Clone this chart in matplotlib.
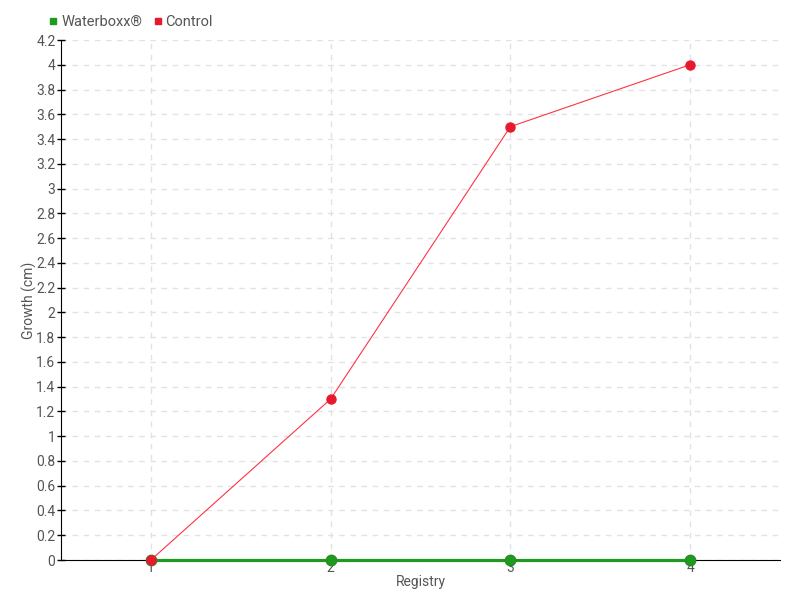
import numpy as np
import matplotlib
matplotlib.use('Agg')
import matplotlib.pyplot as plt

### Data
registry = [1, 2, 3, 4]
waterboxx = [0, 0, 0, 0]
control = [0, 1.3, 3.5, 4.0]
yticks = np.round(np.arange(0, 4.21, 0.2), 1)

plt.rcParams['font.family'] = ['Roboto', 'DejaVu Sans']
txtcol = '#555555'

fig = plt.figure(figsize=(8, 6), dpi=100)
ax = fig.add_axes([61/800, 40/600, 719/800, 520/600])

ax.plot(registry, waterboxx, color='#1e9a1e', linewidth=2.3, marker='o',
        markersize=7.5, markerfacecolor='#1e9a1e', markeredgecolor='#2a8a2a',
        label='Waterboxx®', zorder=3, clip_on=False)
ax.plot(registry, control, color='#ff3345', linewidth=0.8, marker='o',
        markersize=6.5, markerfacecolor='#e8192c', markeredgecolor='#e8192c',
        label='Control', zorder=4, clip_on=False)

ax.set_xlim(0.5, 4.5)
ax.set_ylim(0, 4.2)
ax.set_xticks(registry)
ax.set_xticklabels([str(r) for r in registry])
ax.set_yticks(yticks)
ax.set_yticklabels(['%g' % v for v in yticks])

ax.grid(True, color='#e2e2e2', linestyle=(0, (4, 4)), linewidth=1)
ax.set_axisbelow(True)
for s in ['top', 'right']:
    ax.spines[s].set_visible(False)
ax.spines['left'].set_color('black')
ax.spines['bottom'].set_color('black')
ax.tick_params(axis='y', direction='inout', length=6, width=1,
               colors='black', labelcolor=txtcol, labelsize=10, pad=1)
ax.tick_params(axis='x', length=0, labelcolor=txtcol, labelsize=10, pad=1)

ax.set_xlabel('Registry', color=txtcol, fontsize=10, labelpad=0)
ax.set_ylabel('Growth (cm)', color=txtcol, fontsize=10)
ax.yaxis.set_label_coords(-0.033, 0.5)

h1 = plt.Line2D([], [], color='#1e9a1e', marker='s', linestyle='none', markersize=4.5)
h2 = plt.Line2D([], [], color='#e8192c', marker='s', linestyle='none', markersize=4.5)
leg = ax.legend([h1, h2], ['Waterboxx®', 'Control'], loc='lower left',
                bbox_to_anchor=(-0.028, 1.005), ncol=2, frameon=False,
                fontsize=10.5, handlelength=0.5, handletextpad=0.3,
                columnspacing=0.8, borderaxespad=0.2)
for t in leg.get_texts():
    t.set_color(txtcol)

plt.savefig('out.png', dpi=100)
